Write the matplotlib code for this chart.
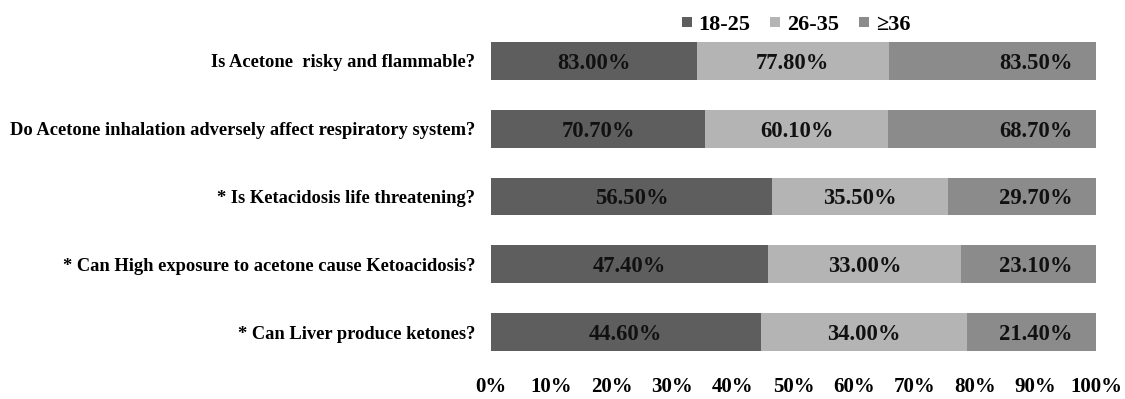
import matplotlib
matplotlib.use("Agg")
import matplotlib.pyplot as plt
from matplotlib.lines import Line2D
import numpy as np

questions = [
    "Is Acetone  risky and flammable?",
    "Do Acetone inhalation adversely affect respiratory system?",
    "* Is Ketacidosis life threatening?",
    "* Can High exposure to acetone cause Ketoacidosis?",
    "* Can Liver produce ketones?",
]
series_names = ["18-25", "26-35", "\u226536"]
age_18_25 = [83.0, 70.7, 56.5, 47.4, 44.6]
age_26_35 = [77.8, 60.1, 35.5, 33.0, 34.0]
age_36_up = [83.5, 68.7, 29.7, 23.1, 21.4]
colors = ["#5e5e5e", "#b4b4b4", "#8b8b8b"]
x_ticks = [0, 10, 20, 30, 40, 50, 60, 70, 80, 90, 100]

plt.rcParams['font.family'] = ['Liberation Serif', 'DejaVu Serif']
plt.rcParams['font.weight'] = 'bold'

W, H = 1125, 399
fig = plt.figure(figsize=(W / 100, H / 100), dpi=100)
left, right, top, bottom = 491, 1096, 27.1, 365.9
ax = fig.add_axes([left / W, 1 - bottom / H, (right - left) / W, (bottom - top) / H])

raw = np.array([age_18_25, age_26_35, age_36_up])
totals = raw.sum(axis=0)
norm = raw / totals * 100
y = np.arange(len(questions))

lefts = np.zeros(len(questions))
for i in range(3):
    bars = ax.barh(y, norm[i], left=lefts, height=0.56, color=colors[i], linewidth=0)
    for j, b in enumerate(bars):
        cy = b.get_y() + b.get_height() / 2
        label = f"{raw[i, j]:.2f}%"
        if i < 2:
            ax.text(b.get_x() + b.get_width() / 2, cy, label, ha='center', va='center_baseline',
                    fontsize=16.3, fontweight='bold', color='#111111')
        else:
            ax.annotate(label, xy=(b.get_x() + b.get_width(), cy), xytext=(-17, 0),
                        textcoords='offset points', ha='right', va='center_baseline',
                        fontsize=16.3, fontweight='bold', color='#111111')
    lefts += norm[i]

ax.set_xlim(0, 100)
ax.set_ylim(len(questions) - 0.5, -0.5)
ax.set_yticks(y)
ax.set_yticklabels(questions, fontsize=13.3, fontweight='bold')
ax.set_xticks(x_ticks)
ax.set_xticklabels([f"{t}%" for t in x_ticks], fontsize=15, fontweight='bold')
ax.tick_params(axis='y', length=0, pad=11.5)
ax.tick_params(axis='x', length=0, pad=8)
for s in ax.spines.values():
    s.set_visible(False)

handles = [Line2D([0], [0], marker='s', linestyle='none', markersize=7.5,
                  markerfacecolor=c, markeredgewidth=0) for c in colors]
fig.legend(handles, series_names, loc='center', ncol=3,
           bbox_to_anchor=((left + right) / 2 / W + 0.002, 1 - 25 / H),
           frameon=False, fontsize=16, handlelength=0.5, handletextpad=0.3,
           columnspacing=0.85, borderaxespad=0, borderpad=0)

fig.savefig("out.png", dpi=100)
